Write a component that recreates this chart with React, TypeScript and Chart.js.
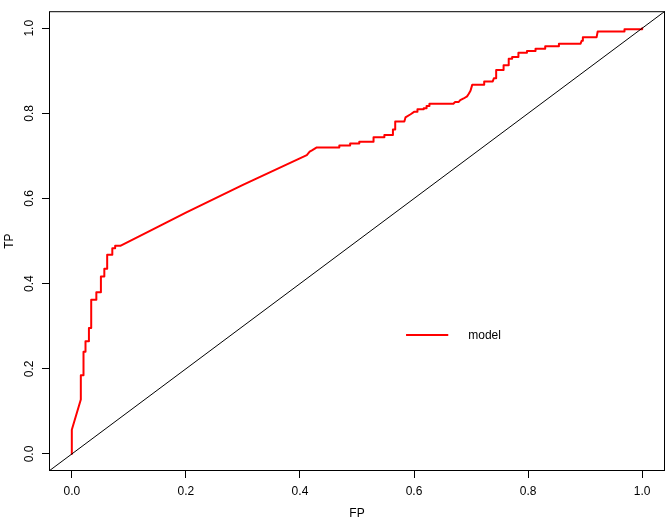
import React, { useEffect, useRef } from "react";
import { Chart, registerables } from "chart.js";

Chart.register(...registerables);

// ROC curve data (false positive rate / true positive rate)
const fpr = [
  0, 0, 0.0158, 0.0158, 0.0205, 0.0205, 0.024, 0.024, 0.03, 0.03, 0.034, 0.034,
  0.043, 0.043, 0.051, 0.051, 0.057, 0.057, 0.062, 0.062, 0.071, 0.071, 0.076,
  0.076, 0.085, 0.137, 0.2, 0.3, 0.412, 0.417, 0.421, 0.4295, 0.469, 0.469,
  0.488, 0.488, 0.504, 0.504, 0.529, 0.529, 0.548, 0.548, 0.563, 0.563, 0.567,
  0.567, 0.583, 0.585, 0.594, 0.6, 0.606, 0.606, 0.617, 0.617, 0.622, 0.622,
  0.627, 0.627, 0.669, 0.672, 0.678, 0.681, 0.687, 0.693, 0.696, 0.699, 0.702,
  0.723, 0.723, 0.738, 0.74, 0.744, 0.744, 0.757, 0.757, 0.766, 0.766, 0.772,
  0.772, 0.783, 0.783, 0.798, 0.798, 0.813, 0.813, 0.83, 0.83, 0.854, 0.854,
  0.892, 0.894, 0.896, 0.896, 0.92, 0.922, 0.969, 0.969, 1.0, 1.0,
];
const tpr = [
  0, 0.057, 0.128, 0.185, 0.185, 0.24, 0.24, 0.265, 0.265, 0.296, 0.296, 0.362,
  0.362, 0.38, 0.38, 0.417, 0.417, 0.435, 0.435, 0.468, 0.468, 0.483, 0.483,
  0.489, 0.489, 0.524, 0.567, 0.632, 0.702, 0.71, 0.713, 0.72, 0.72, 0.7244,
  0.7244, 0.729, 0.729, 0.7336, 0.7336, 0.7437, 0.7437, 0.749, 0.749, 0.762,
  0.762, 0.781, 0.781, 0.7905, 0.798, 0.8036, 0.8036, 0.8096, 0.8096, 0.812,
  0.812, 0.8174, 0.8174, 0.8228, 0.8228, 0.8266, 0.8266, 0.831, 0.835, 0.84,
  0.846, 0.853, 0.867, 0.867, 0.875, 0.875, 0.8826, 0.8826, 0.9017, 0.9017,
  0.913, 0.913, 0.9286, 0.9286, 0.9325, 0.9325, 0.9424, 0.9424, 0.9463, 0.9463,
  0.9516, 0.9516, 0.9578, 0.9578, 0.9638, 0.9638, 0.9707, 0.9707, 0.9786,
  0.9786, 0.9924, 0.9924, 0.9977, 0.9977, 1.0,
];

// reference diagonal y = x spanning the plot region
const diagX = [-0.04, 1.04];
const diagY = [-0.04, 1.04];

const xTicks = [0, 0.2, 0.4, 0.6, 0.8, 1.0];
const yTicks = [0, 0.2, 0.4, 0.6, 0.8, 1.0];

const xLabel = "FP";
const yLabel = "TP";
const seriesName = "model";

// legend anchor in data coordinates
const legendLineX0 = 0.586;
const legendLineX1 = 0.66;
const legendTextX = 0.695;
const legendY = 0.279;

const FONT = '"Liberation Sans", Arial, sans-serif';

const boxPlugin = {
  id: "rbox",
  afterDraw(chart: any) {
    const { ctx, chartArea: a, scales } = chart;
    ctx.save();
    ctx.strokeStyle = "#000";
    ctx.lineWidth = 1;
    ctx.strokeRect(a.left + 0.5, a.top + 0.5, a.right - a.left - 1, a.bottom - a.top - 1);
    const xs = scales.x;
    const ys = scales.y;
    const ly = Math.round(ys.getPixelForValue(legendY));
    ctx.strokeStyle = "#ff0000";
    ctx.lineWidth = 2;
    ctx.beginPath();
    ctx.moveTo(xs.getPixelForValue(legendLineX0), ly);
    ctx.lineTo(xs.getPixelForValue(legendLineX1), ly);
    ctx.stroke();
    ctx.fillStyle = "#000";
    ctx.font = `12px ${FONT}`;
    ctx.textAlign = "left";
    ctx.textBaseline = "middle";
    ctx.fillText(seriesName, xs.getPixelForValue(legendTextX), ly + 1);
    ctx.restore();
  },
};

export default function App() {
  const ref = useRef<HTMLCanvasElement | null>(null);

  useEffect(() => {
    if (!ref.current) return;
    const curve = fpr.map((x, i) => ({ x, y: tpr[i] }));
    const diag = diagX.map((x, i) => ({ x, y: diagY[i] }));
    const tickFont = { family: FONT, size: 12 };
    const chart = new Chart(ref.current, {
      type: "scatter",
      data: {
        datasets: [
          {
            label: "diag",
            data: diag,
            showLine: true,
            borderColor: "#000",
            borderWidth: 1,
            pointRadius: 0,
            order: 0,
          },
          {
            label: seriesName,
            data: curve,
            showLine: true,
            borderColor: "#ff0000",
            borderWidth: 2,
            pointRadius: 0,
            tension: 0,
            borderJoinStyle: "round",
            borderCapStyle: "round",
            order: 1,
          },
        ],
      },
      options: {
        animation: false,
        responsive: false,
        events: [],
        layout: { padding: { left: 0, right: 2, top: 1, bottom: 0 } },
        plugins: { legend: { display: false }, tooltip: { enabled: false } },
        scales: {
          x: {
            type: "linear",
            min: -0.04,
            max: 1.04,
            afterBuildTicks: (s: any) => {
              s.ticks = xTicks.map((v) => ({ value: v }));
            },
            afterFit: (s: any) => {
              s.height = 50;
            },
            grid: {
              drawOnChartArea: false,
              drawTicks: true,
              tickLength: 7,
              color: "#000",
              tickColor: "#000",
            },
            border: { display: false },
            ticks: {
              autoSkip: false,
              maxRotation: 0,
              minRotation: 0,
              padding: 6,
              color: "#000",
              font: tickFont,
              callback: (v: any) => Number(v).toFixed(1),
            },
            title: {
              display: true,
              text: xLabel,
              color: "#000",
              font: tickFont,
              padding: { top: 0, bottom: 0 },
            },
          },
          y: {
            type: "linear",
            min: -0.04,
            max: 1.04,
            afterBuildTicks: (s: any) => {
              s.ticks = yTicks.map((v) => ({ value: v }));
            },
            afterFit: (s: any) => {
              s.width = 49;
            },
            grid: {
              drawOnChartArea: false,
              drawTicks: true,
              tickLength: 7,
              color: "#000",
              tickColor: "#000",
            },
            border: { display: false },
            ticks: {
              autoSkip: false,
              minRotation: 90,
              maxRotation: 90,
              crossAlign: "center",
              padding: 4,
              color: "#000",
              font: tickFont,
              callback: (v: any) => Number(v).toFixed(1),
            },
            title: {
              display: true,
              text: yLabel,
              color: "#000",
              font: tickFont,
              padding: { top: 2, bottom: 0 },
            },
          },
        },
      },
      plugins: [boxPlugin],
    } as any);
    return () => chart.destroy();
  }, []);

  return (
    <div style={{ position: "absolute", left: 0, top: 0, width: 667, height: 521, background: "#fff" }}>
      <canvas ref={ref} width={667} height={521} style={{ display: "block" }} />
    </div>
  );
}
